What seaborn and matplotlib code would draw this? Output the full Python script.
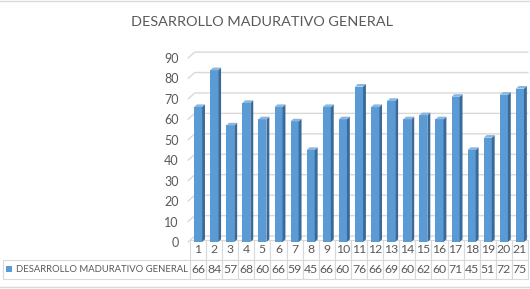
import matplotlib
matplotlib.use("Agg")
import matplotlib.pyplot as plt
import seaborn as sns
from matplotlib.patches import Polygon, Rectangle
from matplotlib.lines import Line2D
from matplotlib.table import Table

# data
categories = [str(i) for i in range(1, 22)]
values = [66, 84, 57, 68, 60, 66, 59, 45, 66, 60, 76, 66, 69, 60, 62, 60, 71, 45, 51, 72, 75]
series_name = "DESARROLLO MADURATIVO GENERAL"
title = "DESARROLLO MADURATIVO GENERAL"
yticks = list(range(0, 100, 10))

# style
front = "#5b9bd5"
side = "#3a6a99"
top = "#8ab6e0"
text_grey = "#595959"
grid_grey = "#d9d9d9"

sns.set_theme(style="white")
plt.rcParams["font.family"] = ["Lato", "DejaVu Sans"]

W, H = 530, 289
fig = plt.figure(figsize=(W / 100, H / 100), dpi=100)
ax = fig.add_axes([190 / W, (H - 242) / H, 338 / W, 184 / H])

sns.barplot(x=categories, y=values, color=front, width=0.5, saturation=1,
            edgecolor="none", ax=ax, zorder=3)

# fake 3d: side and top faces built from each bar
dx, dy = 0.18, 1.3
for p in ax.patches[: len(values)]:
    x0, w, h = p.get_x(), p.get_width(), p.get_height()
    x1 = x0 + w
    ax.add_patch(Polygon([(x1, 0), (x1 + dx, dy), (x1 + dx, h + dy), (x1, h)],
                         closed=True, facecolor=side, edgecolor="none", zorder=3))
    ax.add_patch(Polygon([(x0, h), (x0 + dx, h + dy), (x1 + dx, h + dy), (x1, h)],
                         closed=True, facecolor=top, edgecolor="none", zorder=3))

ax.set_ylim(0, 90)
ax.set_xlim(-0.5, len(values) - 0.5)
ax.set_yticks(yticks)

# back-wall gridlines sit a little above the front scale, with a short slanted start
depth = 2.9
wall_x = -0.5 + 0.3
for t in yticks:
    ax.plot([-0.62, wall_x, len(values) - 0.5], [t, t + depth, t + depth],
            color=grid_grey, linewidth=1, clip_on=False, zorder=1)
for s in ax.spines.values():
    s.set_visible(False)
ax.set_xticks([])
ax.set_xlabel("")
ax.set_ylabel("")
ax.tick_params(axis="y", length=0, pad=8, labelsize=9, labelcolor=text_grey)

# data table under the chart
row_w = 187 / 338
col_w = 1 / len(values)
tbl = Table(ax, bbox=[-row_w, -37 / 184, 1 + row_w, 39 / 184])
tbl.auto_set_font_size(False)
blank = tbl.add_cell(0, 0, width=row_w, height=0.5, text="")
blank.visible_edges = ""
lab = tbl.add_cell(1, 0, width=row_w, height=0.5, text=series_name, loc="left")
lab.PAD = 0.07
lab.get_text().set_fontsize(6.8)
for i, (c, v) in enumerate(zip(categories, values), start=1):
    tbl.add_cell(0, i, width=col_w, height=0.5, text=c, loc="center")
    tbl.add_cell(1, i, width=col_w, height=0.5, text=str(v), loc="center")
for (r, c), cell in tbl.get_celld().items():
    cell.set_edgecolor(grid_grey)
    cell.set_linewidth(0.8)
    cell.set_clip_on(False)
    cell.get_text().set_clip_on(False)
    cell.get_text().set_color(text_grey)
    if c > 0:
        cell.get_text().set_fontsize(8.8)
ax.add_table(tbl)

# legend key in the row label cell
fig.add_artist(Rectangle((6 / W, (H - 272) / H), 6 / W, 6 / H, facecolor=front,
                         edgecolor="none", transform=fig.transFigure))

fig.text(262 / W, (H - 22) / H, title, ha="center", va="center",
         fontsize=10.4, color=text_grey)

# chart frame lines
fig.add_artist(Line2D([0, 1], [1 - 1 / H, 1 - 1 / H], color=grid_grey, linewidth=1,
                      transform=fig.transFigure))
fig.add_artist(Line2D([0, 1], [2 / H, 2 / H], color=grid_grey, linewidth=1,
                      transform=fig.transFigure))

fig.savefig("out.png", dpi=100)
